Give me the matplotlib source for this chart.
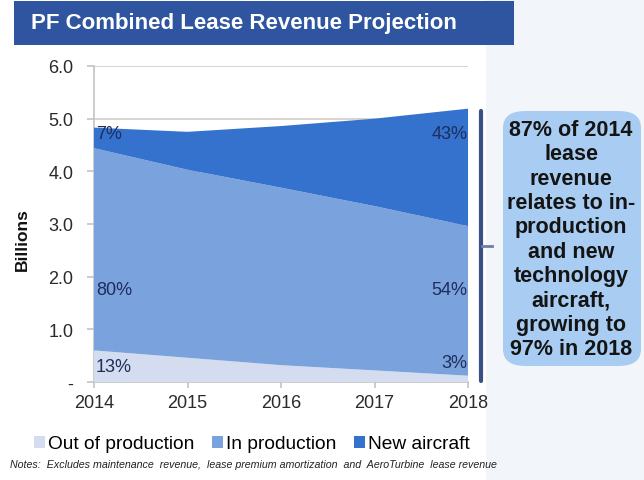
import matplotlib
matplotlib.use("Agg")
import matplotlib.pyplot as plt
from matplotlib.patches import FancyBboxPatch, Rectangle
import numpy as np

years = [2014, 2015, 2016, 2017, 2018]
out_of_production = [0.60, 0.46, 0.32, 0.22, 0.12]
in_production = [3.84, 3.57, 3.37, 3.12, 2.84]
new_aircraft = [0.39, 0.72, 1.17, 1.66, 2.23]
series_names = ["Out of production", "In production", "New aircraft"]
colors = ["#D3DDEF", "#7AA2DC", "#3472CD"]
labels_2014 = ["13%", "80%", "7%"]
labels_2018 = ["3%", "54%", "43%"]
yticks = [0, 1, 2, 3, 4, 5, 6]
ytick_labels = ["-", "1.0", "2.0", "3.0", "4.0", "5.0", "6.0"]

FONT = "Liberation Sans"
W, H = 644, 481
fig = plt.figure(figsize=(W / 100, H / 100), dpi=100)
fig.patch.set_facecolor("white")

def fx(px):
    return px / W

def fy(py):
    return 1 - py / H

# pale background on right
fig.patches.append(Rectangle((fx(486), 0), 1 - fx(486), 1, transform=fig.transFigure,
                             facecolor="#F2F5FA", edgecolor="none", zorder=-5))

# title banner
fig.patches.append(Rectangle((fx(14), fy(46)), fx(514) - fx(14), 44 / H,
                             transform=fig.transFigure, facecolor="#2F55A1",
                             edgecolor="none", zorder=1))
fig.text(fx(31), fy(28.5), "PF Combined Lease Revenue Projection", color="white",
         fontsize=16, fontweight="bold", va="baseline", ha="left", family=FONT, zorder=2)

ax = fig.add_axes([fx(94), fy(383), fx(468) - fx(94), (383 - 67) / H])
ax.set_facecolor("white")
ax.stackplot(years, out_of_production, in_production, new_aircraft,
             colors=colors, labels=series_names, zorder=3)
ax.set_xlim(2014, 2018)
ax.set_ylim(0, 6)
ax.set_yticks(yticks)
ax.set_yticklabels(ytick_labels)
ax.set_xticks(years)
ax.grid(axis="y", color="#D6D0CA", linewidth=1.3, zorder=0)
ax.set_axisbelow(True)
for s in ["top", "right"]:
    ax.spines[s].set_visible(False)
ax.spines["left"].set_color("#C4C4C4")
ax.spines["bottom"].set_color("#C4C4C4")
ax.spines["left"].set_linewidth(1.2)
ax.spines["bottom"].set_linewidth(1.2)
ax.tick_params(axis="y", colors="#C4C4C4", labelcolor="#2A2A2A", labelsize=13,
               length=5, width=1.2, pad=10)
ax.tick_params(axis="x", colors="#C4C4C4", labelcolor="#2A2A2A", labelsize=13,
               length=4, width=1.2, pad=5)
for lab in ax.get_xticklabels() + ax.get_yticklabels():
    lab.set_family(FONT)

fig.text(fx(22), fy(240), "Billions", rotation=90, ha="center", va="center",
         fontsize=12.5, fontweight="bold", family=FONT, color="#111111")

# percentage labels
lab_color = "#1E2D5C"
y14 = [0.30, 1.75, 4.71]
y18 = [0.37, 1.75, 4.71]
for i in range(3):
    ax.text(2014.02, y14[i], labels_2014[i], ha="left", va="center", fontsize=13,
            color=lab_color, family=FONT, zorder=5)
    ax.text(2017.995, y18[i], labels_2018[i], ha="right", va="center", fontsize=13,
            color=lab_color, family=FONT, zorder=5)

# bracket
fig.add_artist(plt.Line2D([fx(481), fx(481)], [fy(112), fy(382)],
                          transform=fig.transFigure, color="#3A4F86", linewidth=3,
                          solid_capstyle="round"))
fig.add_artist(plt.Line2D([fx(482), fx(492)], [fy(247), fy(247)],
                          transform=fig.transFigure, color="#6D7FA8", linewidth=2))

# callout box
fig.patches.append(FancyBboxPatch((fx(503), fy(367)), fx(641) - fx(503), (367 - 112) / H,
                                  boxstyle="round,pad=0,rounding_size=0.035",
                                  transform=fig.transFigure, facecolor="#A9CDF2",
                                  edgecolor="none", zorder=2))
fig.text(fx(571), fy(240),
         "87% of 2014\nlease\nrevenue\nrelates to in-\nproduction\nand new\ntechnology\naircraft,\ngrowing to\n97% in 2018",
         ha="center", va="center", fontsize=15.5, fontweight="bold", color="#141414",
         linespacing=1.21, family=FONT, zorder=3)

# legend
handles = [Rectangle((0, 0), 1, 1, facecolor=c) for c in colors]
fig.legend(handles, series_names, loc="center", bbox_to_anchor=(fx(252), fy(445)),
           ncol=3, frameon=False, handlelength=0.6, handleheight=0.6,
           handletextpad=0.15, columnspacing=0.9, borderaxespad=0, borderpad=0,
           prop={"family": FONT, "size": 13.8})

fig.text(fx(10), fy(465.5),
         "Notes:  Excludes maintenance  revenue,  lease premium amortization  and  AeroTurbine  lease revenue",
         ha="left", va="center", fontsize=7.7, style="italic", color="#222222",
         family=FONT)

fig.savefig("out.png", dpi=100, facecolor=fig.get_facecolor())
